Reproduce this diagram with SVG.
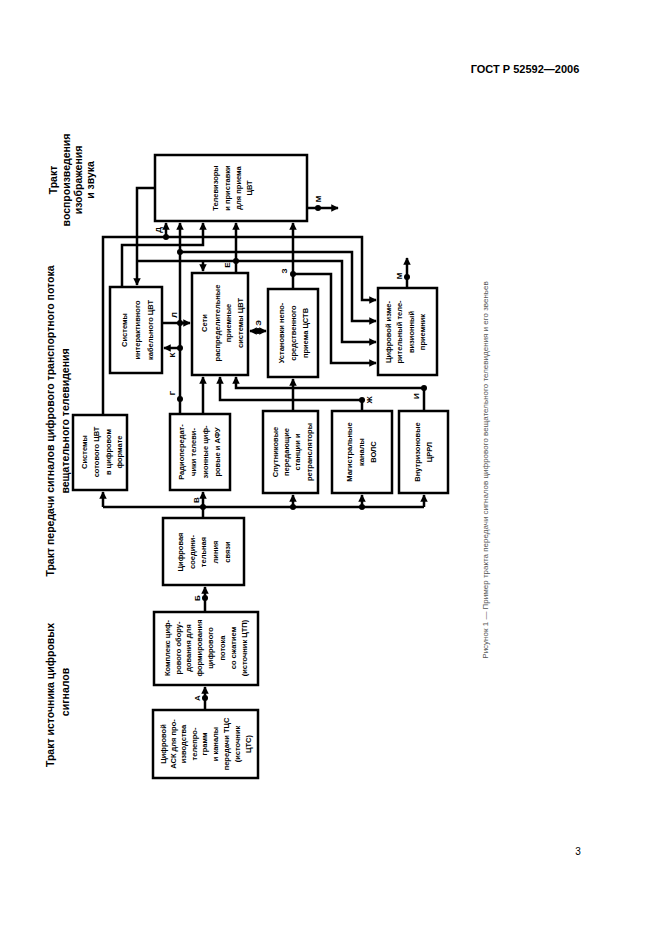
<svg xmlns="http://www.w3.org/2000/svg" width="661" height="936" viewBox="0 0 661 936">
<style>
.b{fill:#fff;stroke:#000;stroke-width:2.5}
.l{fill:none;stroke:#000;stroke-width:2.5}
.t{font-family:"Liberation Sans",Arial,sans-serif;font-size:7.5px;font-weight:bold;text-anchor:middle;dominant-baseline:central}
.h{font-family:"Liberation Sans",Arial,sans-serif;font-size:10.5px;font-weight:bold;text-anchor:middle;dominant-baseline:central}
.lb{font-family:"Liberation Sans",Arial,sans-serif;font-size:8px;font-weight:bold;text-anchor:middle;dominant-baseline:central}
</style>
<defs>
<marker id="a" viewBox="0 0 10 10" refX="9" refY="5" markerWidth="3" markerHeight="3" orient="auto-start-reverse"><path d="M0,0L10,5L0,10z"/></marker>
</defs>
<rect width="661" height="936" fill="#fff"/>
<text x="525" y="73" font-family="Liberation Sans,Arial,sans-serif" font-size="11" font-weight="bold" text-anchor="middle">ГОСТ Р 52592—2006</text>
<text x="578" y="855" font-family="Liberation Sans,Arial,sans-serif" font-size="10" text-anchor="middle">3</text>
<g class="h">
<text transform="translate(50,695) rotate(-90)">Тракт источника цифровых</text>
<text transform="translate(65,692) rotate(-90)">сигналов</text>
<text transform="translate(50,421) rotate(-90)">Тракт передачи сигналов цифрового транспортного потока</text>
<text transform="translate(65,421) rotate(-90)">вещательного телевидения</text>
<text transform="translate(53,180) rotate(-90)">Тракт</text>
<text transform="translate(66,180) rotate(-90)">воспроизведения</text>
<text transform="translate(78,180) rotate(-90)">изображения</text>
<text transform="translate(90,180) rotate(-90)">и звука</text>
</g>
<text transform="translate(485,470) rotate(-90)" font-family="Liberation Sans,Arial,sans-serif" font-size="8" fill="#555" text-anchor="middle" dominant-baseline="central">Рисунок 1 — Пример тракта передачи сигналов цифрового вещательного телевидения и его звеньев</text>

<g id="connectors">
<path class="l" d="M205,710V687" marker-end="url(#a)"/>
<path class="l" d="M205,612V587" marker-end="url(#a)"/>
<path class="l" d="M203,518V507"/>
<path class="l" d="M103,507H424"/>
<path class="l" d="M103,507V492" marker-end="url(#a)"/>
<path class="l" d="M203,507V492" marker-end="url(#a)"/>
<path class="l" d="M293,507V495" marker-end="url(#a)"/>
<path class="l" d="M362,507V495" marker-end="url(#a)"/>
<path class="l" d="M424,507V495" marker-end="url(#a)"/>
<path class="l" d="M103,415V237H362V300H376" marker-end="url(#a)"/>
<path class="l" d="M166,237V223" marker-end="url(#a)"/>
<path class="l" d="M155,188H137V285" marker-end="url(#a)"/>
<path class="l" d="M122,287V245H203V223" marker-end="url(#a)"/>
<path class="l" d="M180,414V223" marker-end="url(#a)"/>
<path class="l" d="M180,252H352V321H376" marker-end="url(#a)"/>
<path class="l" d="M137,261H342V342H376" marker-end="url(#a)"/>
<path class="l" d="M203,261V271" marker-end="url(#a)"/>
<path class="l" d="M236,273V223" marker-end="url(#a)"/>
<path class="l" d="M293,289V223" marker-end="url(#a)"/>
<path class="l" d="M293,274H331V363H376" marker-end="url(#a)"/>
<path class="l" d="M162,323H190" marker-end="url(#a)"/>
<path class="l" d="M180,348H164" marker-end="url(#a)"/>
<path class="l" d="M203,414V377" marker-end="url(#a)"/>
<path class="l" d="M424,411V388H236V377" marker-end="url(#a)"/>
<path class="l" d="M362,411V400H220V377" marker-end="url(#a)"/>
<path class="l" d="M293,411V379" marker-end="url(#a)"/>
<path class="l" d="M250,331H266" marker-start="url(#a)" marker-end="url(#a)"/>
<path class="l" d="M307,208H338" marker-end="url(#a)"/>
<path class="l" d="M407,288V258" marker-end="url(#a)"/>
<g fill="#000">
<circle cx="205" cy="698" r="3"/><circle cx="205" cy="598" r="3"/><circle cx="203" cy="507" r="3"/>
<circle cx="293" cy="507" r="3"/><circle cx="362" cy="507" r="3"/>
<circle cx="166" cy="237" r="3"/><circle cx="180" cy="252" r="3"/><circle cx="236" cy="261" r="3"/>
<circle cx="293" cy="274" r="3"/><circle cx="180" cy="399" r="3"/><circle cx="180" cy="323" r="3"/>
<circle cx="180" cy="348" r="3"/><circle cx="424" cy="388" r="3"/><circle cx="362" cy="400" r="3"/>
<circle cx="258" cy="331" r="3"/><circle cx="318" cy="208" r="3"/><circle cx="407" cy="277" r="3"/>
</g>
<g class="lb">
<text transform="translate(197,698) rotate(-90)">А</text>
<text transform="translate(197,598) rotate(-90)">Б</text>
<text transform="translate(196,500) rotate(-90)">В</text>
<text transform="translate(172,393) rotate(-90)">Г</text>
<text transform="translate(158,230) rotate(-90)">Д</text>
<text transform="translate(227,265) rotate(-90)">Е</text>
<text transform="translate(369,400) rotate(-90)">Ж</text>
<text transform="translate(284,271) rotate(-90)">З</text>
<text transform="translate(416,396) rotate(-90)">И</text>
<text transform="translate(172,355) rotate(-90)">К</text>
<text transform="translate(174,315) rotate(-90)">Л</text>
<text transform="translate(318,199) rotate(-90)">М</text>
<text transform="translate(399,276) rotate(-90)">М</text>
<text transform="translate(258,323) rotate(-90)">Э</text>
</g>
</g>

<g id="n1"><rect class="b" x="153" y="710" width="105" height="68"/><g class="t">
<text transform="translate(163,744) rotate(-90)">Цифровой</text>
<text transform="translate(173,744) rotate(-90)">АСК для про-</text>
<text transform="translate(183,744) rotate(-90)">изводства</text>
<text transform="translate(194,744) rotate(-90)">телепро-</text>
<text transform="translate(204,744) rotate(-90)">грамм</text>
<text transform="translate(215,744) rotate(-90)">и каналы</text>
<text transform="translate(226,744) rotate(-90)">передачи ТЦС</text>
<text transform="translate(237,744) rotate(-90)">(источник</text>
<text transform="translate(248,744) rotate(-90)">ЦТС)</text></g></g>
<g id="n2"><rect class="b" x="154" y="612" width="104" height="73"/><g class="t">
<text transform="translate(167,648) rotate(-90)">Комплекс циф-</text>
<text transform="translate(178,648) rotate(-90)">рового обору-</text>
<text transform="translate(188,648) rotate(-90)">дования для</text>
<text transform="translate(199,648) rotate(-90)">формирования</text>
<text transform="translate(210,648) rotate(-90)">цифрового</text>
<text transform="translate(222,648) rotate(-90)">потока</text>
<text transform="translate(233,648) rotate(-90)">со сжатием</text>
<text transform="translate(244,648) rotate(-90)">(источник ЦТП)</text></g></g>
<g id="n3"><rect class="b" x="163" y="518" width="81" height="67"/><g class="t">
<text transform="translate(180,552) rotate(-90)">Цифровая</text>
<text transform="translate(192,552) rotate(-90)">соедини-</text>
<text transform="translate(203,552) rotate(-90)">тельная</text>
<text transform="translate(215,552) rotate(-90)">линия</text>
<text transform="translate(227,552) rotate(-90)">связи</text></g></g>
<g id="n4"><rect class="b" x="73" y="415" width="54" height="75"/><g class="t">
<text transform="translate(84,452) rotate(-90)">Системы</text>
<text transform="translate(96,452) rotate(-90)">сотового ЦВТ</text>
<text transform="translate(108,452) rotate(-90)">в цифровом</text>
<text transform="translate(119,452) rotate(-90)">формате</text></g></g>
<g id="n5"><rect class="b" x="170" y="414" width="60" height="76"/><g class="t">
<text transform="translate(181,452) rotate(-90)">Радиопередат-</text>
<text transform="translate(193,452) rotate(-90)">чики телеви-</text>
<text transform="translate(205,452) rotate(-90)">зионные циф-</text>
<text transform="translate(217,452) rotate(-90)">ровые и АФУ</text></g></g>
<g id="n6"><rect class="b" x="263" y="411" width="55" height="82"/><g class="t">
<text transform="translate(275,452) rotate(-90)">Спутниковые</text>
<text transform="translate(286,452) rotate(-90)">передающие</text>
<text transform="translate(297,452) rotate(-90)">станции и</text>
<text transform="translate(309,452) rotate(-90)">ретрансляторы</text></g></g>
<g id="n7"><rect class="b" x="332" y="411" width="60" height="82"/><g class="t">
<text transform="translate(349,452) rotate(-90)">Магистральные</text>
<text transform="translate(361,452) rotate(-90)">каналы</text>
<text transform="translate(373,452) rotate(-90)">ВОЛС</text></g></g>
<g id="n8"><rect class="b" x="399" y="411" width="49" height="82"/><g class="t">
<text transform="translate(417,452) rotate(-90)">Внутризоновые</text>
<text transform="translate(429,452) rotate(-90)">ЦРРЛ</text></g></g>
<g id="n9"><rect class="b" x="110" y="287" width="52" height="86"/><g class="t">
<text transform="translate(124,330) rotate(-90)">Системы</text>
<text transform="translate(137,330) rotate(-90)">интерактивного</text>
<text transform="translate(150,330) rotate(-90)">кабельного ЦВТ</text></g></g>
<g id="n10"><rect class="b" x="192" y="273" width="56" height="102"/><g class="t">
<text transform="translate(204,323) rotate(-90)">Сети</text>
<text transform="translate(217,323) rotate(-90)">распределительные</text>
<text transform="translate(228,323) rotate(-90)">приемные</text>
<text transform="translate(240,323) rotate(-90)">системы ЦВТ</text></g></g>
<g id="n11"><rect class="b" x="268" y="289" width="50" height="88"/><g class="t">
<text transform="translate(281,333) rotate(-90)">Установки непо-</text>
<text transform="translate(293,333) rotate(-90)">средственного</text>
<text transform="translate(305,333) rotate(-90)">приема ЦСТВ</text></g></g>
<g id="n12"><rect class="b" x="378" y="288" width="59" height="87"/><g class="t">
<text transform="translate(388,332) rotate(-90)">Цифровой изме-</text>
<text transform="translate(399,332) rotate(-90)">рительный теле-</text>
<text transform="translate(411,332) rotate(-90)">визионный</text>
<text transform="translate(422,332) rotate(-90)">приемник</text></g></g>
<g id="n13"><rect class="b" x="155" y="155" width="152" height="66"/><g class="t">
<text transform="translate(215,188) rotate(-90)">Телевизоры</text>
<text transform="translate(227,188) rotate(-90)">и приставки</text>
<text transform="translate(238,188) rotate(-90)">для приема</text>
<text transform="translate(249,188) rotate(-90)">ЦВТ</text></g></g>
</svg>
